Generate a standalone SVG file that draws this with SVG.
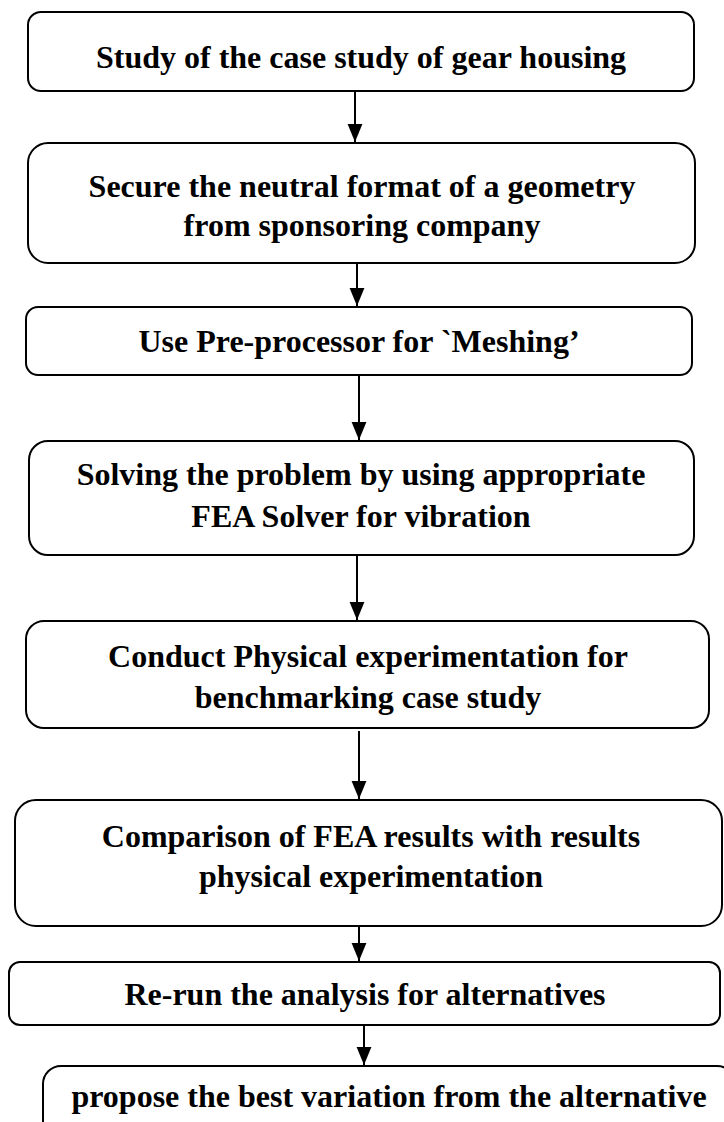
<svg xmlns="http://www.w3.org/2000/svg" width="724" height="1122" viewBox="0 0 724 1122">
<style>
.box{fill:#fff;stroke:#000;stroke-width:2}
.t{font-family:"Liberation Serif","Times New Roman",serif;font-weight:bold;font-size:32px;fill:#000;text-anchor:middle}
.c{stroke:#000;stroke-width:2;fill:none;marker-end:url(#ah)}
</style>
<defs>
<marker id="ah" markerUnits="userSpaceOnUse" markerWidth="18" markerHeight="16" refX="17" refY="7" orient="auto" viewBox="0 0 17 14"><path d="M0,0 L17,7 L0,14 Z" fill="#000"/></marker>
</defs>
<rect width="724" height="1122" fill="#fff"/>
<g id="connectors">
<line class="c" x1="355" y1="91" x2="355" y2="142"/>
<line class="c" x1="357" y1="263" x2="357" y2="306"/>
<line class="c" x1="359" y1="375" x2="359" y2="440"/>
<line class="c" x1="357" y1="555" x2="357" y2="620"/>
<line class="c" x1="359" y1="731" x2="359" y2="799"/>
<line class="c" x1="359" y1="924" x2="359" y2="961"/>
<line class="c" x1="364" y1="1025" x2="364" y2="1065"/>
</g>
<g id="n1"><rect class="box" x="28" y="12" width="666" height="79" rx="13"/><text class="t" x="361" y="68">Study of the case study of gear housing</text></g>
<g id="n2"><rect class="box" x="28" y="143" width="667" height="120" rx="20"/><text class="t" x="362" y="197">Secure the neutral format of a geometry</text><text class="t" x="362" y="236">from sponsoring company</text></g>
<g id="n3"><rect class="box" x="26" y="307" width="666" height="68" rx="12"/><text class="t" x="359" y="352">Use Pre-processor for `Meshing’</text></g>
<g id="n4"><rect class="box" x="29" y="441" width="665" height="114" rx="19"/><text class="t" x="361" y="485">Solving the problem by using appropriate</text><text class="t" x="361" y="527">FEA Solver for vibration</text></g>
<g id="n5"><rect class="box" x="26" y="621" width="683" height="107" rx="18"/><text class="t" x="368" y="667">Conduct Physical experimentation for</text><text class="t" x="368" y="708">benchmarking case study</text></g>
<g id="n6"><rect class="box" x="15" y="800" width="707" height="126" rx="21"/><text class="t" x="371" y="847">Comparison of FEA results with results</text><text class="t" x="371" y="887">physical experimentation</text></g>
<g id="n7"><rect class="box" x="9" y="962" width="711" height="63" rx="11"/><text class="t" x="365" y="1005">Re-run the analysis for alternatives</text></g>
<g id="n8"><rect class="box" x="43" y="1066" width="692" height="120" rx="18"/><text class="t" x="389" y="1107">propose the best variation from the alternative</text></g>
</svg>
